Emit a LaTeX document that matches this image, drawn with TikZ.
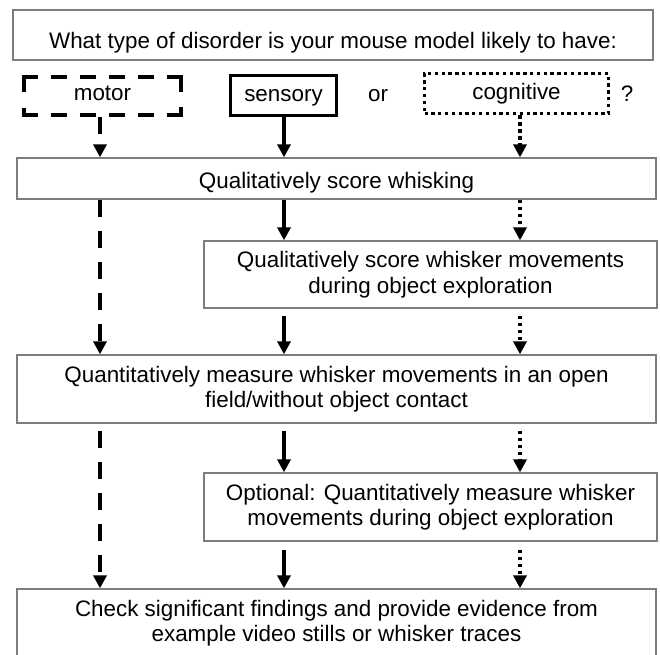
\documentclass[tikz,border=0pt]{standalone}
\usepackage{fontspec}
\setmainfont{Liberation Sans}
\usetikzlibrary{arrows.meta}
\definecolor{boxgray}{RGB}{125,125,125}
\begin{document}
\begin{tikzpicture}[x=1pt,y=-1pt,
  font=\fontsize{22.4}{25.5}\selectfont,
  thinbox/.style={draw=boxgray,line width=1.3pt,rectangle,inner sep=0pt,align=center},
  motorbox/.style={draw=none,rectangle,inner sep=0pt},
  motoredge/.style={draw=black,line width=3.8pt},
  sensbox/.style={draw=black,line width=3.5pt,rectangle,inner sep=0pt},
  cogbox/.style={draw=black,line width=3.3pt,dash pattern=on 3.3pt off 3.5pt,rectangle,inner sep=0pt},
  arr/.style={-{Triangle[width=13pt,length=13pt]},line width=3.3pt},
  motorline/.style={arr,line width=3.8pt,dash pattern=on 17pt off 14pt},
  cogline/.style={arr,dash pattern=on 3.5pt off 3.5pt},
  plain/.style={inner sep=0pt}
]
\useasboundingbox (0,0) rectangle (660,654);
\begin{scope}
\clip (0,0) rectangle (660,654);

% columns
\coordinate (cm) at (100,0);
\coordinate (cs) at (284,0);
\coordinate (cc) at (520,0);

% top question
\node[thinbox,minimum width=640pt,text height=38pt,text depth=12pt] (top) at (333,35)
  {What type of disorder is your mouse model likely to have:};

% categories
\node[motorbox,minimum width=161pt,text height=25pt,text depth=17pt] (motor) at (102.5,96) {motor};
\draw[motoredge,dash pattern=on 16pt off 13pt]
  ([yshift=-1.9pt]motor.north west) -- ([yshift=-1.9pt]motor.north east);
\draw[motoredge,dash pattern=on 16pt off 13pt]
  ([yshift=1.9pt]motor.south west) -- ([yshift=1.9pt]motor.south east);
\draw[motoredge,dash pattern=on 17pt off 16pt on 9pt off 20pt]
  ([xshift=1.9pt]motor.north west) -- ([xshift=1.9pt]motor.south west);
\draw[motoredge,dash pattern=on 17pt off 15pt on 10pt off 20pt]
  ([xshift=-1.9pt]motor.north east) -- ([xshift=-1.9pt]motor.south east);

\node[sensbox,minimum width=106pt,text height=26pt,text depth=14pt] (sens) at (283.5,95.5) {sensory};
\node[plain] (or) at (378,96) {or};
\node[cogbox,minimum width=184pt,text height=26pt,text depth=14pt] (cog) at (516.5,93.5) {cognitive};
\node[plain] (q) at (627,94) {?};

% steps
\node[thinbox,minimum width=639pt,text height=30pt,text depth=11pt] (b1) at (336.5,178.5)
  {Qualitatively score whisking};
\node[thinbox,minimum width=453pt,minimum height=67pt] (b2) at (430.5,274.5)
  {Qualitatively score whisker movements\\during object exploration};
\node[thinbox,minimum width=639pt,minimum height=68pt] (b3) at (336.5,389)
  {Quantitatively measure whisker movements in an open\\field/without object contact};
\node[thinbox,minimum width=453pt,minimum height=68pt] (b4) at (430.5,507)
  {Optional: Quantitatively measure whisker\\movements during object exploration};
\node[thinbox,minimum width=639pt,minimum height=68pt] (b5) at (336.5,623)
  {Check significant findings and provide evidence from\\example video stills or whisker traces};

% motor path
\draw[motorline] (motor.south -| cm) -- (b1.north -| cm);
\draw[motorline] (b1.south -| cm) -- (b3.north -| cm);
\draw[motorline] ([yshift=-7pt]b3.south -| cm) -- (b5.north -| cm);

% sensory path
\draw[arr] (sens.south -| cs) -- (b1.north -| cs);
\draw[arr] (b1.south -| cs) -- (b2.north -| cs);
\draw[arr] ([yshift=-7pt]b2.south -| cs) -- (b3.north -| cs);
\draw[arr] ([yshift=-7pt]b3.south -| cs) -- (b4.north -| cs);
\draw[arr] ([yshift=-8pt]b4.south -| cs) -- (b5.north -| cs);

% cognitive path
\draw[cogline] (cog.south -| cc) -- (b1.north -| cc);
\draw[cogline] (b1.south -| cc) -- (b2.north -| cc);
\draw[cogline] ([yshift=-7pt]b2.south -| cc) -- (b3.north -| cc);
\draw[cogline] ([yshift=-7pt]b3.south -| cc) -- (b4.north -| cc);
\draw[cogline] ([yshift=-8pt]b4.south -| cc) -- (b5.north -| cc);
\end{scope}
\end{tikzpicture}
\end{document}
